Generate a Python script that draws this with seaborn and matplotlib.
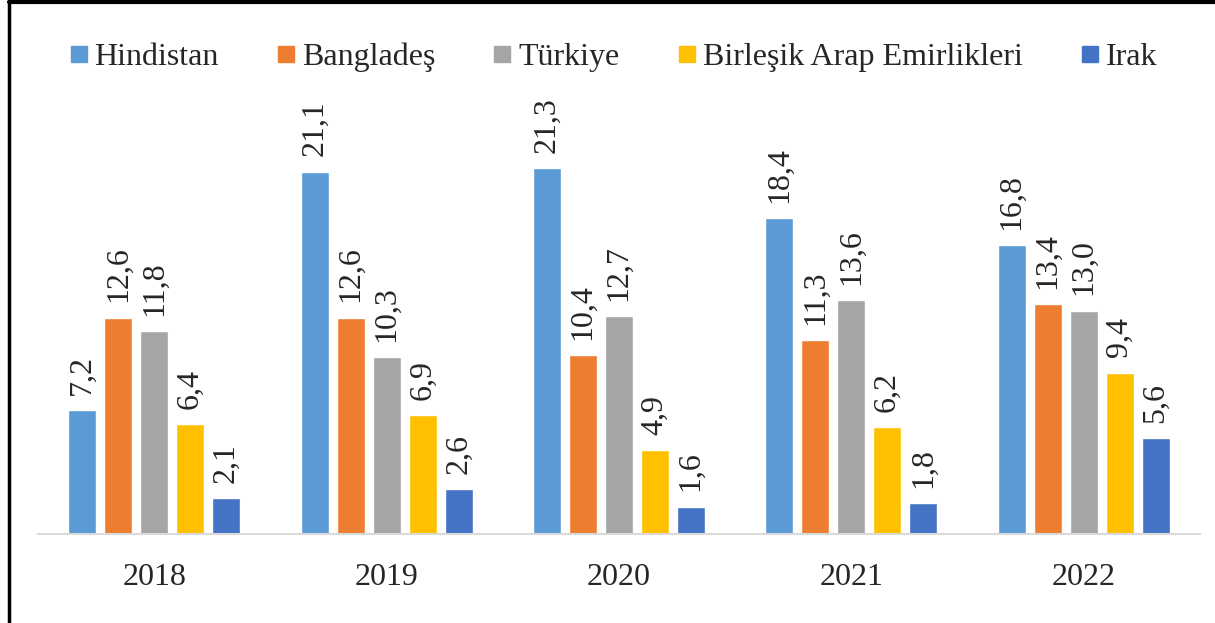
import matplotlib
matplotlib.use("Agg")
import matplotlib.pyplot as plt
import seaborn as sns
import pandas as pd
from matplotlib.lines import Line2D

years = ["2018", "2019", "2020", "2021", "2022"]
countries = ["Hindistan", "Bangladeş", "Türkiye", "Birleşik Arap Emirlikleri", "Irak"]
hindistan = [7.2, 21.1, 21.3, 18.4, 16.8]
banglades = [12.6, 12.6, 10.4, 11.3, 13.4]
turkiye = [11.8, 10.3, 12.7, 13.6, 13.0]
bae = [6.4, 6.9, 4.9, 6.2, 9.4]
irak = [2.1, 2.6, 1.6, 1.8, 5.6]
colors = ["#5B9BD5", "#ED7D31", "#A5A5A5", "#FFC000", "#4472C4"]

series = [hindistan, banglades, turkiye, bae, irak]
rows = []
for c, vals in zip(countries, series):
    for y, v in zip(years, vals):
        rows.append({"Yıl": y, "Ülke": c, "Değer": v})
df = pd.DataFrame(rows)

sns.set_theme(style="white")
plt.rcParams["font.family"] = ["Liberation Serif", "DejaVu Serif"]

fig = plt.figure(figsize=(12.15, 6.23), dpi=100)
ax = fig.add_axes([38/1215, (623-534)/623, (1200-38)/1215, (534-20)/623])
sns.barplot(data=df, x="Yıl", y="Değer", hue="Ülke", hue_order=countries,
            order=years, palette=colors, width=0.775, gap=0.22,
            saturation=1, ax=ax, legend=False, errorbar=None)

ax.set_ylim(0, 514/17.18)
ax.set_xlim(-0.5, 4.5)
ax.set_yticks([])
ax.set_xlabel("")
ax.set_ylabel("")
for s in ["top", "right", "left"]:
    ax.spines[s].set_visible(False)
ax.spines["bottom"].set_color("#D9D9D9")
ax.spines["bottom"].set_linewidth(1.5)
ax.tick_params(axis="x", length=0, pad=21, labelsize=23)

for cont in ax.containers:
    labels = [f"{v:.1f}".replace(".", ",") for v in cont.datavalues]
    ax.bar_label(cont, labels=labels, rotation=90, padding=11, fontsize=23)

handles = [Line2D([0], [0], marker="s", linestyle="none", markersize=11.5,
                  markerfacecolor=c, markeredgecolor=c) for c in colors]
fig.legend(handles, countries, loc="center", bbox_to_anchor=(0.502, 1-57/623),
           ncol=5, frameon=False, fontsize=23, handletextpad=0.0,
           columnspacing=1.6, handlelength=1.0)

# outer frame (left and top edges visible)
fig.add_artist(Line2D([9/1215, 9/1215], [0, 1-1/623], transform=fig.transFigure,
                      color="black", linewidth=2.5))
fig.add_artist(Line2D([9/1215, 1], [1-1.5/623, 1-1.5/623], transform=fig.transFigure,
                      color="black", linewidth=3))

fig.savefig("out.png", dpi=100)
